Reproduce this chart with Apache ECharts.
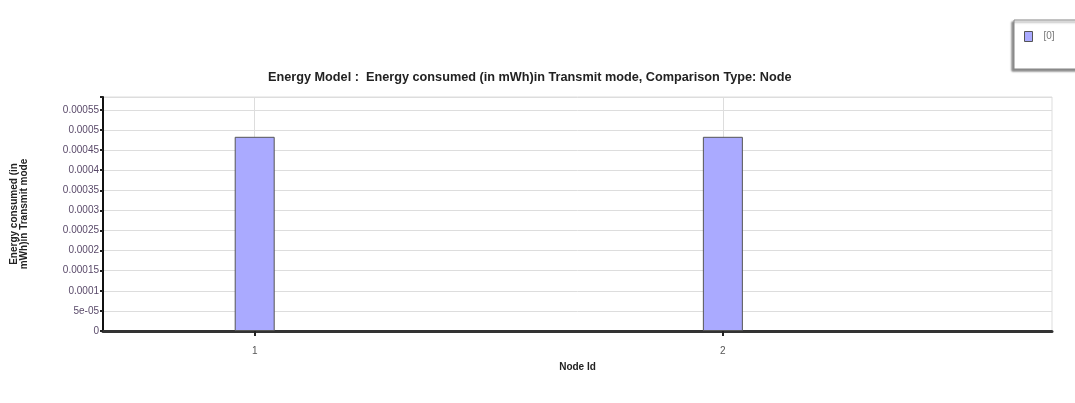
<!DOCTYPE html>
<html>
<head>
<meta charset="utf-8">
<script src="https://cdn.jsdelivr.net/npm/echarts@6/dist/echarts.min.js"></script>
<style>html,body{margin:0;padding:0;background:#fff;}#c{width:1075px;height:403px;}</style>
</head>
<body>
<div id="c"></div>
<script>
const nodeIds = [1, 2];
const seriesName = '[0]';
const energyValues = [0.000483, 0.000483];
const yTickValues = [0, 0.00005, 0.0001, 0.00015, 0.0002, 0.00025, 0.0003, 0.00035, 0.0004, 0.00045, 0.0005, 0.00055];
const yTickLabels = ['0', '5e-05', '0.0001', '0.00015', '0.0002', '0.00025', '0.0003', '0.00035', '0.0004', '0.00045', '0.0005', '0.00055'];
const xTickLabels = ['1', '2'];
const titleText = 'Energy Model :  Energy consumed (in mWh)in Transmit mode, Comparison Type: Node';
const yName = 'Energy consumed (in\nmWh)in Transmit mode';
const xName = 'Node Id';

const font = "'Liberation Sans', Arial, sans-serif";
const chart = echarts.init(document.getElementById('c'), null, {renderer: 'canvas'});
chart.setOption({
  animation: false,
  backgroundColor: '#fff',
  title: {
    text: titleText, left: 263, top: 66,
    textStyle: {fontFamily: font, fontSize: 12.7, fontWeight: 'bold', color: '#222'}
  },
  legend: {
    data: [seriesName], left: 1014, top: 20, orient: 'vertical', icon: 'rect',
    padding: [11, 30, 27, 10], itemWidth: 8, itemHeight: 10, itemGap: 6,
    borderColor: '#888', borderWidth: 1, backgroundColor: '#fff',
    shadowColor: 'rgba(0,0,0,0.45)', shadowBlur: 2, shadowOffsetX: -2, shadowOffsetY: 2,
    textStyle: {fontFamily: font, fontSize: 10, color: '#777', padding: [0, 0, 0, 6]},
    itemStyle: {borderColor: '#555', borderWidth: 1}
  },
  grid: {left: 103, right: 23, top: 97, bottom: 72, show: true, borderColor: '#ddd', borderWidth: 1,
    containLabel: false, outerBoundsMode: 'none'},
  xAxis: {
    type: 'value', min: 0.676, max: 2.703,
    name: xName, nameLocation: 'middle', nameGap: 31,
    nameTextStyle: {fontFamily: font, fontSize: 10, fontWeight: 'bold', color: '#222'},
    axisLine: {show: true, onZero: false, lineStyle: {color: '#333', width: 3}},
    axisTick: {show: true, customValues: nodeIds, length: 5, lineStyle: {color: '#222', width: 2}},
    axisLabel: {customValues: nodeIds, formatter: v => xTickLabels[nodeIds.indexOf(Math.round(v))] || '',
      fontFamily: font, fontSize: 10, color: '#555', margin: 15},
    splitLine: {show: true, lineStyle: {color: '#ddd', width: 1}}
  },
  yAxis: {
    type: 'value', min: 0, max: 0.000582, interval: 0.00005,
    name: yName, nameLocation: 'middle', nameGap: 74, nameRotate: 90,
    nameTextStyle: {fontFamily: font, fontSize: 10, fontWeight: 'bold', color: '#222', lineHeight: 10, align: 'center'},
    axisLine: {show: true, lineStyle: {color: '#111', width: 2}},
    axisTick: {show: true, length: 3, lineStyle: {color: '#222', width: 2}},
    axisLabel: {
      showMaxLabel: true,
      formatter: v => { const i = Math.round(v / 0.00005); return (Math.abs(v - yTickValues[i]) < 1e-9) ? yTickLabels[i] : ''; },
      fontFamily: font, fontSize: 10, color: '#5a4a6a', margin: 4
    },
    splitLine: {show: true, lineStyle: {color: '#ddd', width: 1}}
  },
  series: [{
    name: seriesName, type: 'bar', barWidth: 40,
    data: nodeIds.map((x, i) => [x, energyValues[i]]),
    itemStyle: {color: '#aaaaff', borderColor: '#555', borderWidth: 1}
  }]
});
</script>
</body>
</html>
